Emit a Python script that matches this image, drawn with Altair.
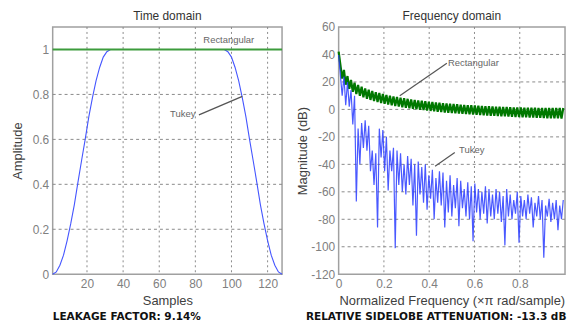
import altair as alt
import pandas as pd

# ---------------- Time domain data ----------------
tukey_left_n = [1, 3, 5, 7, 9, 11, 13, 15, 17, 19, 21, 23, 25, 27, 29, 31, 33]
tukey_left_w = [0.0, 0.01, 0.04, 0.085, 0.15, 0.225, 0.31, 0.41, 0.506, 0.60,
                0.70, 0.785, 0.86, 0.92, 0.966, 0.99, 1.0]
tukey_right_n = [96, 98, 100, 102, 104, 106, 108, 110, 112, 114, 116, 118, 120,
                 122, 124, 126, 128]
tukey_right_w = [1.0, 0.99, 0.966, 0.92, 0.86, 0.785, 0.70, 0.60, 0.506, 0.41,
                 0.31, 0.225, 0.15, 0.085, 0.04, 0.01, 0.0]
rect_n = [1, 128]
rect_w = [1.0, 1.0]

# ---------------- Frequency domain data ----------------
rect_f0_db = 42.1
tukey_f0_db = 39.6
rect_peak_db = [28.7, 24.3, 21.4, 19.4, 17.8, 16.5, 15.3, 14.3, 13.4, 12.6,
                11.9, 11.2, 10.6, 10.0, 9.5, 9.0, 8.5, 8.1, 7.7, 7.3,
                6.9, 6.6, 6.3, 6.0, 5.6, 5.4, 5.1, 4.8, 4.6, 4.3,
                4.1, 3.9, 3.7, 3.5, 3.3, 3.1, 3.0, 2.8, 2.7, 2.5,
                2.4, 2.3, 2.1, 2.0, 1.9, 1.8, 1.7, 1.6, 1.5, 1.5,
                1.4, 1.3, 1.3, 1.2, 1.2, 1.1, 1.1, 1.0, 1.0, 1.0,
                1.0, 1.0, 1.0]
rect_trough_db = [22.5, 18.0, 15.0, 12.8, 11.2, 9.9, 8.8, 7.8, 6.9, 6.1,
                  5.4, 4.7, 4.1, 3.5, 3.0, 2.5, 2.0, 1.6, 1.2, 0.8,
                  0.4, 0.1, -0.2, -0.5, -0.9, -1.1, -1.4, -1.7, -1.9, -2.2,
                  -2.4, -2.6, -2.8, -3.0, -3.2, -3.4, -3.6, -3.8, -3.9, -4.1,
                  -4.2, -4.4, -4.6, -4.7, -4.8, -5.0, -5.1, -5.2, -5.4, -5.5,
                  -5.6, -5.7, -5.8, -5.9, -6.0, -6.1, -6.2, -6.3, -6.4, -6.4,
                  -6.5, -6.5, -6.6]
tukey_peak_db = [24, 20, 14, 10, -14, -10, -8, -12, -30, -32,
                 -14, -15, -20, -30, -28, -30, -32, -40, -34, -36,
                 -40, -38, -42, -40, -48, -44, -50, -45, -46, -52,
                 -48, -55, -50, -52, -58, -53, -56, -54, -58, -60,
                 -56, -58, -62, -58, -60, -63, -58, -62, -66, -60,
                 -63, -66, -62, -64, -68, -63, -66, -70, -65, -68,
                 -66, -70, -66]
tukey_trough_db = [10, 3, 2, -11, -67, -40, -28, -30, -45, -55,
                   -86, -35, -45, -59, -45, -101, -55, -60, -62, -55,
                   -70, -92, -62, -68, -73, -65, -80, -68, -70, -86,
                   -75, -78, -72, -85, -72, -78, -80, -96, -75, -80,
                   -76, -83, -78, -80, -76, -82, -99, -78, -80, -76,
                   -97, -78, -80, -76, -86, -78, -80, -108, -78, -82,
                   -80, -88, -80]

# ---------------- ticks / grid ----------------
time_x_ticks = [20, 40, 60, 80, 100, 120]
time_y_ticks = [0, 0.2, 0.4, 0.6, 0.8, 1]
freq_x_ticks = [0, 0.2, 0.4, 0.6, 0.8]
freq_y_ticks = [-120, -100, -80, -60, -40, -20, 0, 20, 40, 60]

time_title = "Time domain"
freq_title = "Frequency domain"
leakage_text = "LEAKAGE FACTOR: 9.14%"
sidelobe_text = "RELATIVE SIDELOBE ATTENUATION: -13.3 dB"

# annotations (data coordinates)
time_labels = ["Rectangular", "Tukey"]
time_label_x = [98.5, 73.0]
time_label_y = [1.04, 0.715]
time_arrow_x = [82.0, 106.0]
time_arrow_y = [0.709, 0.791]

freq_labels = ["Rectangular", "Tukey"]
freq_label_x = [0.483, 0.532]
freq_label_y = [33.6, -29.3]
freq_rect_arrow_x = [0.27, 0.478]
freq_rect_arrow_y = [10.0, 33.6]
freq_tukey_arrow_x = [0.513, 0.426]
freq_tukey_arrow_y = [-31.4, -41.4]

# ---------------- build tables ----------------
tukey_time = pd.DataFrame({"x": tukey_left_n + tukey_right_n,
                           "y": tukey_left_w + tukey_right_w})
rect_time = pd.DataFrame({"x": rect_n, "y": rect_w})

n_lobes = len(rect_peak_db)
f_vals = [0.0]
rect_vals = [rect_f0_db]
tukey_vals = [tukey_f0_db]
for k in range(n_lobes):
    f_vals += [2 * (k + 1) / 128, (2 * (k + 1) + 1) / 128]
    rect_vals += [rect_trough_db[k], rect_peak_db[k]]
    tukey_vals += [tukey_trough_db[k], tukey_peak_db[k]]
rect_freq = pd.DataFrame({"x": f_vals, "y": rect_vals})
tukey_freq = pd.DataFrame({"x": f_vals, "y": tukey_vals})

LABEL_EXPR = "'' + datum.value"


def tx():
    return alt.X("x:Q", scale=alt.Scale(domain=[1, 128], nice=False),
                 axis=alt.Axis(values=time_x_ticks, title="Samples", grid=False,
                               labelExpr=LABEL_EXPR, titlePadding=5))


def ty():
    return alt.Y("y:Q", scale=alt.Scale(domain=[0, 1.1], nice=False, zero=False),
                 axis=alt.Axis(values=time_y_ticks, title="Amplitude", grid=False,
                               labelExpr=LABEL_EXPR, titlePadding=8))


def fx():
    return alt.X("x:Q", scale=alt.Scale(domain=[0, 1], nice=False),
                 axis=alt.Axis(values=freq_x_ticks, grid=False,
                               title="Normalized Frequency  (\u00d7\u03c0 rad/sample)",
                               labelExpr=LABEL_EXPR, titlePadding=5))


def fy():
    return alt.Y("y:Q", scale=alt.Scale(domain=[-120, 60], nice=False, zero=False),
                 axis=alt.Axis(values=freq_y_ticks, grid=False,
                               title="Magnitude (dB)", labelExpr=LABEL_EXPR,
                               titlePadding=1))


W_L, W_R, H = 231, 228, 249
ANN_COLOR = "#555555"
GRID_COLOR = "#8a8a8a"


def grid_rules(xvals, yvals, xenc, yenc):
    gx = alt.Chart(pd.DataFrame({"x": xvals})).mark_rule(
        color=GRID_COLOR, strokeDash=[2, 3], strokeWidth=1).encode(x=xenc())
    gy = alt.Chart(pd.DataFrame({"y": yvals})).mark_rule(
        color=GRID_COLOR, strokeDash=[3, 3], strokeWidth=1).encode(y=yenc())
    return [gx, gy]


def title_mark(text, width):
    return alt.Chart(pd.DataFrame({"t": [text]})).mark_text(
        font="Liberation Sans", fontSize=12, color="#333333", align="center",
        baseline="middle").encode(x=alt.value(width / 2), y=alt.value(-11), text="t:N")


def bottom_mark(text, xoff):
    return alt.Chart(pd.DataFrame({"t": [text]})).mark_text(
        font="DejaVu Sans", fontWeight="bold", fontSize=10.6, color="#111111",
        align="left", baseline="bottom").encode(x=alt.value(xoff), y=alt.value(H + 48), text="t:N")


# ---------------- left panel ----------------
t_tukey = alt.Chart(tukey_time).mark_line(color="#4455ff", strokeWidth=1.1).encode(
    x=tx(), y=ty(), order="x:Q")
t_rect = alt.Chart(rect_time).mark_line(color="#3c9c3c", strokeWidth=2).encode(x=tx(), y=ty())
t_text = alt.Chart(pd.DataFrame({"x": time_label_x, "y": time_label_y, "t": time_labels})).mark_text(
    font="Liberation Sans", fontSize=9.5, color="#666666").encode(x=tx(), y=ty(), text="t:N")
t_arrow = alt.Chart(pd.DataFrame({"x": time_arrow_x, "y": time_arrow_y})).mark_line(
    color=ANN_COLOR, strokeWidth=1.3).encode(x=tx(), y=ty())

left = alt.layer(*grid_rules(time_x_ticks, time_y_ticks[1:], tx, ty),
                 t_tukey, t_rect, t_arrow, t_text, title_mark(time_title, W_L),
                 bottom_mark(leakage_text, 0)).properties(width=W_L, height=H)

# ---------------- right panel ----------------
f_rect = alt.Chart(rect_freq).mark_line(color="#007800", strokeWidth=2.2).encode(
    x=fx(), y=fy(), order="x:Q")
f_tukey = alt.Chart(tukey_freq).mark_line(color="#2a3cff", strokeWidth=1.2, opacity=0.85).encode(
    x=fx(), y=fy(), order="x:Q")
f_arrow1 = alt.Chart(pd.DataFrame({"x": freq_rect_arrow_x, "y": freq_rect_arrow_y})).mark_line(
    color=ANN_COLOR, strokeWidth=1.2).encode(x=fx(), y=fy())
f_arrow2 = alt.Chart(pd.DataFrame({"x": freq_tukey_arrow_x, "y": freq_tukey_arrow_y})).mark_line(
    color=ANN_COLOR, strokeWidth=1.2).encode(x=fx(), y=fy())
f_text = alt.Chart(pd.DataFrame({"x": freq_label_x, "y": freq_label_y, "t": freq_labels})).mark_text(
    font="Liberation Sans", fontSize=9.5, color="#666666", align="left").encode(
    x=fx(), y=fy(), text="t:N")

right = alt.layer(*grid_rules(freq_x_ticks[1:], freq_y_ticks[1:-1], fx, fy),
                  f_rect, f_tukey, f_arrow1, f_arrow2, f_text, title_mark(freq_title, W_R),
                  bottom_mark(sidelobe_text, -33)).properties(width=W_R, height=H)

chart = alt.hconcat(left, right, spacing=57, bounds="flush").properties(
    padding={"left": 2, "top": 0, "right": 0, "bottom": 0}
).configure_view(
    stroke="#a0a0a0", strokeWidth=1.5
).configure_axis(
    labelFont="Liberation Sans", labelFontSize=12, labelColor="#808080",
    titleFont="Liberation Sans", titleFontSize=13, titleColor="#404040",
    titleFontWeight="normal", domain=False, ticks=False, labelPadding=4,
    labelFlush=False, labelOverlap=False
)

chart.save("out.html", embed_options={"renderer": "svg", "actions": False})
